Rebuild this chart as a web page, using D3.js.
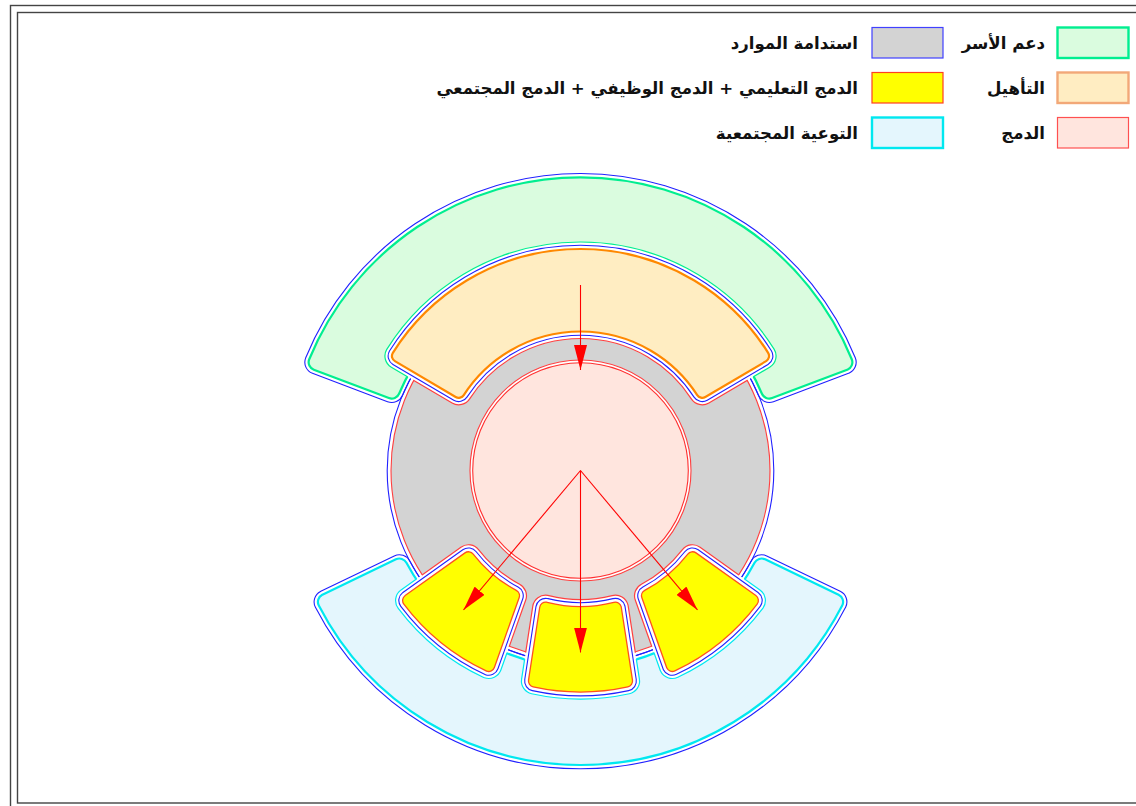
<!DOCTYPE html>
<html>
<head>
<meta charset="utf-8">
<script src="https://cdn.jsdelivr.net/npm/d3@7"></script>
<style>
  body { margin: 0; background: #fff; }
  svg { display: block; }
</style>
</head>
<body>
<svg id="chart" width="1136" height="806"></svg>
<script>
// legend content (two columns, read right to left)
const legendRight = ["دعم الأسر", "التأهيل", "الدمج"];
const legendLeft = ["استدامة الموارد", "الدمج التعليمي + الدمج الوظيفي + الدمج المجتمعي", "التوعية المجتمعية"];
const legendRightFill = ["#dafcdf", "#ffedc2", "#ffe5de"];
const legendRightStroke = ["#00ee90", "#f2a878", "#ff5050"];
const legendLeftFill = ["#d3d3d3", "#ffff00", "#e4f6fd"];
const legendLeftStroke = ["#4040ff", "#ff4020", "#00e8f0"];

// diagram geometry: radii in px, angles in degrees (0 = up, clockwise)
const ringRadii = [107.8, 110.5, 189.5];          // pink circle, gray inner, gray outer
const orangeRadii = [139, 221.5];
const orangeSides = [[-59.5, -59.5], [59.5, 59.5]]; // [inner angle, outer angle] per side
const greenRadii = [197, 293.2];
const greenSides = [[-69.3, -69.3], [69.3, 69.3]];
const cyanRadii = [197, 294.5];
const cyanSides = [[115.7, 115.7], [244.3, 244.3]];
const yellowRadii = [136, 221.5];
const yellowSides = [
  [[125.5, 125.5], [154, 156.5]],
  [[163, 166.2], [197, 193.8]],
  [[206, 203.5], [234.5, 234.5]]
];
const arrowAngles = [140, 180, 220];
const arrowLength = 182;
const topArrow = [185.5, 100.5];

const BLUE = "#2020ff";
const BLUE_OFF = 3.8;   // distance of blue outline from a piece border
const CUT = 7;          // distance of a neighbour's border from a piece border

const svg = d3.select("#chart");
const CX = 580.5, CY = 470.5;
const ang = d3.scaleLinear().domain([0, 360]).range([0, 2 * Math.PI]);

function polar(r, deg) {
  const a = ang(deg);
  return [r * Math.sin(a), -r * Math.cos(a)];
}

// side line shifted inward by t, intersected with circle R
function sidePoint(radii, side, other, t, R) {
  const P = polar(radii[0], side[0]), Q = polar(radii[1], side[1]);
  let dx = Q[0] - P[0], dy = Q[1] - P[1];
  const len = Math.hypot(dx, dy); dx /= len; dy /= len;
  let nx = -dy, ny = dx;
  const mid = polar((radii[0] + radii[1]) / 2, (side[0] + other[0]) / 2);
  if (nx * (mid[0] - P[0]) + ny * (mid[1] - P[1]) < 0) { nx = -nx; ny = -ny; }
  const px = P[0] + t * nx, py = P[1] + t * ny;
  const b = px * dx + py * dy;
  const s = -b + Math.sqrt(b * b - (px * px + py * py - R * R));
  return [px + s * dx, py + s * dy];
}

// core outline of a piece, shrunk by t
function core(radii, sides, t) {
  const R0 = radii[0] + t, R1 = radii[1] - t;
  const oS = sidePoint(radii, sides[0], sides[1], t, R1);
  const oE = sidePoint(radii, sides[1], sides[0], t, R1);
  const iE = sidePoint(radii, sides[1], sides[0], t, R0);
  const iS = sidePoint(radii, sides[0], sides[1], t, R0);
  const span = (p, q) => {
    let a = Math.atan2(q[0], -q[1]) - Math.atan2(p[0], -p[1]);
    while (a < 0) a += 2 * Math.PI;
    return a > Math.PI ? 1 : 0;
  };
  const f = p => p[0].toFixed(2) + "," + p[1].toFixed(2);
  return "M" + f(oS) + "A" + R1 + "," + R1 + " 0 " + span(oS, oE) + " 1 " + f(oE) +
    "L" + f(iE) + "A" + R0 + "," + R0 + " 0 " + span(iS, iE) + " 0 " + f(iS) + "Z";
}

function layered(g, d, o) {
  const add = (w, col) => g.append("path").attr("d", d)
    .attr("fill", col).attr("stroke", col).attr("stroke-width", Math.max(w, 0.01))
    .attr("stroke-linejoin", "round");
  if (o.blue) {
    add(2 * (o.c + BLUE_OFF) + 1.1, BLUE);
    add(2 * (o.c + BLUE_OFF) - 1.1, "#fff");
  }
  add(2 * o.c + o.sw, o.stroke);
  add(2 * o.c - o.sw, o.fill);
}

const defs = svg.append("defs");
const root = svg.append("g").attr("transform", `translate(${CX},${CY})`);

const C = 6;
const orangeCore = core(orangeRadii, orangeSides, C);
const yellowCores = yellowSides.map(s => core(yellowRadii, s, C));
const greenCore = core(greenRadii, greenSides, 8);
const cyanCore = core(cyanRadii, cyanSides, 8);

let maskId = 0;
function makeMask(fillFn) {
  const id = "m" + (maskId++);
  const m = defs.append("mask").attr("id", id).attr("maskUnits", "userSpaceOnUse")
    .attr("x", -600).attr("y", -600).attr("width", 1200).attr("height", 1200);
  fillFn(m);
  return "url(#" + id + ")";
}
const cutMask = cuts => makeMask(m => {
  m.append("rect").attr("x", -600).attr("y", -600).attr("width", 1200).attr("height", 1200).attr("fill", "#fff");
  cuts.forEach(d => m.append("path").attr("d", d).attr("fill", "#000").attr("stroke", "#000")
    .attr("stroke-width", 2 * (C + CUT)).attr("stroke-linejoin", "round"));
});
const regionMask = (d, c) => makeMask(m => {
  m.append("path").attr("d", d).attr("fill", "#fff").attr("stroke", "#fff")
    .attr("stroke-width", 2 * c + 1.2).attr("stroke-linejoin", "round");
});
function cutLines(g, cuts, col) {
  cuts.forEach(d => {
    g.append("path").attr("d", d).attr("fill", col).attr("stroke", col)
      .attr("stroke-width", 2 * (C + CUT) + 1.2).attr("stroke-linejoin", "round");
    g.append("path").attr("d", d).attr("fill", "#fff").attr("stroke", "#fff")
      .attr("stroke-width", 2 * (C + CUT) - 1.2).attr("stroke-linejoin", "round");
  });
}

// green (دعم الأسر) cut by orange
const gGreen = root.append("g").attr("mask", cutMask([orangeCore]));
layered(gGreen, greenCore, { c: 8, fill: "#dafcdf", stroke: "#00ee90", sw: 2.2, blue: true });
cutLines(root.append("g").attr("mask", regionMask(greenCore, 8)), [orangeCore], "#00ee90");

// cyan (التوعية المجتمعية) cut by yellows
const gCyan = root.append("g").attr("mask", cutMask(yellowCores));
layered(gCyan, cyanCore, { c: 8, fill: "#e4f6fd", stroke: "#00e8f0", sw: 2.2, blue: true });
cutLines(root.append("g").attr("mask", regionMask(cyanCore, 8)), yellowCores, "#00e8f0");

// gray ring (استدامة الموارد) cut by orange and yellows
const annulus = (a, b) => `M0,${-b}A${b},${b} 0 1 1 0,${b}A${b},${b} 0 1 1 0,${-b}Z` +
  `M0,${-a}A${a},${a} 0 1 0 0,${a}A${a},${a} 0 1 0 0,${-a}Z`;
const gGray = root.append("g").attr("mask", cutMask([orangeCore].concat(yellowCores)));
gGray.append("circle").attr("r", ringRadii[2] + BLUE_OFF).attr("fill", "none").attr("stroke", BLUE).attr("stroke-width", 1.1);
gGray.append("path").attr("d", annulus(ringRadii[1], ringRadii[2])).attr("fill", "#d3d3d3")
  .attr("fill-rule", "evenodd").attr("stroke", "#ff4040").attr("stroke-width", 1.1);
const grayRegion = makeMask(m => m.append("path").attr("d", annulus(ringRadii[1] - 0.6, ringRadii[2] + 0.6))
  .attr("fill", "#fff").attr("fill-rule", "evenodd"));
cutLines(root.append("g").attr("mask", grayRegion), [orangeCore].concat(yellowCores), "#ff4040");

// pink circle (الدمج)
root.append("circle").attr("r", ringRadii[0]).attr("fill", "#ffe5de").attr("stroke", "#ff3030").attr("stroke-width", 1.1);

// orange (التأهيل)
layered(root.append("g"), orangeCore, { c: C, fill: "#ffedc2", stroke: "#ff8800", sw: 2.2, blue: true });

// yellow pieces
yellowCores.forEach(d => layered(root.append("g"), d, { c: C, fill: "#ffff00", stroke: "#ff5020", sw: 1.3, blue: true }));

// arrows
defs.append("marker").attr("id", "ah").attr("viewBox", "0 0 25 13")
  .attr("refX", 25).attr("refY", 6.5).attr("markerWidth", 25).attr("markerHeight", 13)
  .attr("markerUnits", "userSpaceOnUse").attr("orient", "auto")
  .append("path").attr("d", "M0,0L25,6.5L0,13Z").attr("fill", "#ff0000");
const arrows = [[polar(topArrow[0], 0), polar(topArrow[1], 0)]]
  .concat(arrowAngles.map(a => [[0, 0], polar(arrowLength, a)]));
root.selectAll(".arrow").data(arrows).join("line").attr("class", "arrow")
  .attr("x1", d => d[0][0]).attr("y1", d => d[0][1])
  .attr("x2", d => d[1][0]).attr("y2", d => d[1][1])
  .attr("stroke", "#ff0000").attr("stroke-width", 1.1).attr("marker-end", "url(#ah)");

// legend
const rowY = d3.scaleLinear().domain([0, 1]).range([27.5, 72.5]);
function legendColumn(labels, fills, strokes, boxX, textX, widths) {
  const g = svg.append("g");
  labels.forEach((t, i) => {
    g.append("rect").attr("x", boxX).attr("y", rowY(i)).attr("width", 71).attr("height", 30.5)
      .attr("fill", fills[i]).attr("stroke", strokes[i]).attr("stroke-width", widths[i]);
    g.append("text").attr("x", textX).attr("y", rowY(i) + 21)
      .attr("text-anchor", "end").attr("font-family", "'DejaVu Sans', Arial, sans-serif")
      .attr("font-weight", "bold").attr("font-size", 16.6).attr("fill", "#111").text(t);
  });
}
legendColumn(legendRight, legendRightFill, legendRightStroke, 1057.5, 1045, [2.4, 2.4, 1.2]);
legendColumn(legendLeft, legendLeftFill, legendLeftStroke, 872, 858, [1.2, 1.2, 2.4]);

// drawing frame
svg.append("rect").attr("x", 10.5).attr("y", 5.5).attr("width", 1300).attr("height", 900)
  .attr("fill", "none").attr("stroke", "#444").attr("stroke-width", 1.4);
svg.append("rect").attr("x", 17.5).attr("y", 12.5).attr("width", 1300).attr("height", 790.5)
  .attr("fill", "none").attr("stroke", "#444").attr("stroke-width", 1.4);
</script>
</body>
</html>
